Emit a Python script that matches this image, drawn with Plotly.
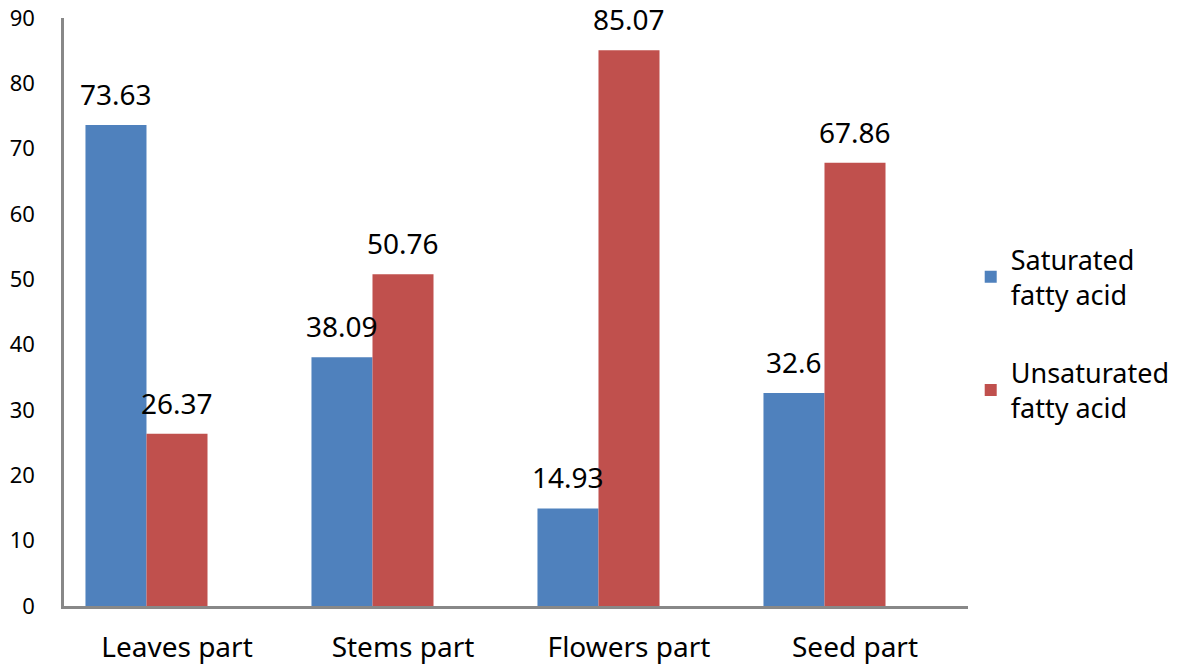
import plotly.graph_objects as go

categories = ["Leaves part", "Stems part", "Flowers part", "Seed part"]
saturated = [73.63, 38.09, 14.93, 32.6]
unsaturated = [26.37, 50.76, 85.07, 67.86]
saturated_labels = ["73.63", "38.09", "14.93", "32.6"]
unsaturated_labels = ["26.37", "50.76", "85.07", "67.86"]
y_ticks = [0, 10, 20, 30, 40, 50, 60, 70, 80, 90]

FONT = "Noto Sans"
FS = 28
BLUE = "#4F81BD"
RED = "#C0504D"

fig = go.Figure()
fig.add_trace(go.Bar(
    x=categories, y=saturated, name="Saturated<br>fatty acid",
    marker=dict(color=BLUE, line=dict(width=0)),
    width=0.27, offset=-0.405, legendgroup="a",
))
fig.add_trace(go.Bar(
    x=categories, y=unsaturated, name="Unsaturated<br>fatty acid",
    marker=dict(color=RED, line=dict(width=0)),
    width=0.27, offset=-0.135, legendgroup="b",
))

for c, v, t in zip(categories, saturated, saturated_labels):
    fig.add_annotation(x=c, y=v, text=t, showarrow=False, xshift=-61, yshift=31,
                       font=dict(family=FONT, size=FS, color="black"))
for c, v, t in zip(categories, unsaturated, unsaturated_labels):
    fig.add_annotation(x=c, y=v, text=t, showarrow=False, xshift=0, yshift=31,
                       font=dict(family=FONT, size=FS, color="black"))

fig.update_layout(
    width=1173, height=657,
    margin=dict(l=56, r=213, t=10, b=59, autoexpand=False),
    paper_bgcolor="white", plot_bgcolor="white",
    font=dict(family=FONT, size=FS, color="black"),
    barmode="overlay",
    showlegend=True,
    legend=dict(x=1.003, xanchor="left", y=0.463, yanchor="middle",
                traceorder="grouped", tracegroupgap=40,
                font=dict(family=FONT, size=27, color="black"),
                itemwidth=30),
    xaxis=dict(showline=True, linecolor="#888888", linewidth=2.5,
               showgrid=False, ticks="", ticklabelstandoff=15,
               range=[-0.5, 3.5], automargin=False),
    yaxis=dict(range=[0, 90], tickvals=y_ticks, showline=True,
               linecolor="#888888", linewidth=2.5, showgrid=False,
               ticks="", zeroline=False, ticklabelstandoff=22,
               ticklabeloverflow="allow",
               tickfont=dict(family=FONT, size=22, color="black"),
               automargin=False),
)

fig.write_html("out.html")
